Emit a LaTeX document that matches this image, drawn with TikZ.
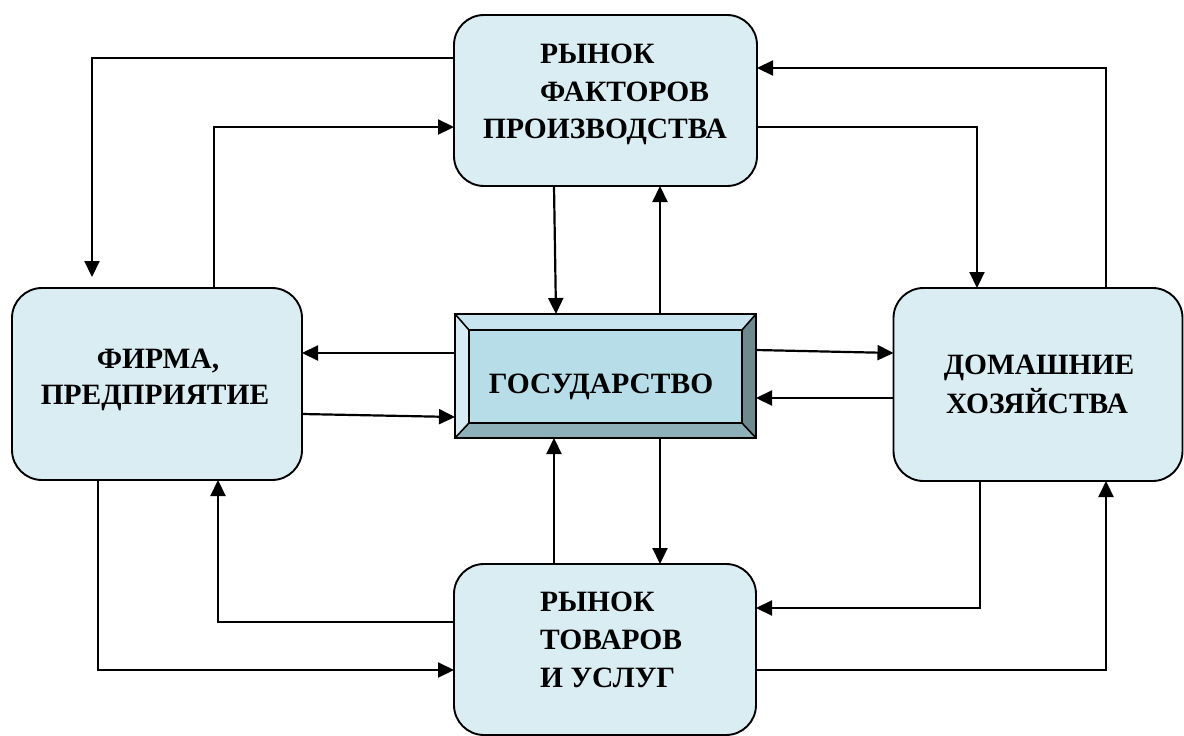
\documentclass[tikz,border=0pt]{standalone}
\usepackage{fontspec}
\setmainfont{Liberation Serif}
\usetikzlibrary{arrows.meta}
\definecolor{boxfill}{RGB}{218,237,243}
\definecolor{govin}{RGB}{183,221,232}
\definecolor{govtop}{RGB}{200,228,238}
\definecolor{govleft}{RGB}{214,235,242}
\definecolor{govright}{RGB}{110,138,143}
\definecolor{govbot}{RGB}{142,176,184}
\begin{document}
\begin{tikzpicture}[x=1pt,y=-1pt,
  mbox/.style={draw=black,line width=1.9pt,fill=boxfill,rounded corners=30pt,outer sep=0pt,inner sep=0pt},
  lbl/.style={font=\fontsize{29.5}{35}\selectfont\bfseries,inner sep=0pt,anchor=base},
  lblw/.style={lbl,anchor=base west},
  arr/.style={line width=2.2pt,-{Triangle[length=16pt,width=15pt]}},
  bev/.style={draw=black,line width=1.6pt,line join=miter}]
\useasboundingbox (0,0) rectangle (1184,736);

% boxes
\node[mbox,minimum width=303pt,minimum height=171pt] (top) at (605.5,100.5) {};
\node[mbox,minimum width=290pt,minimum height=192pt] (firm) at (157,384) {};
\node[mbox,minimum width=289pt,minimum height=193pt] (hh) at (1038,384.5) {};
\node[mbox,minimum width=302pt,minimum height=171pt] (bot) at (605,649.5) {};
\node[draw=black,line width=1.9pt,fill=govin,outer sep=0pt,minimum width=301pt,minimum height=124pt] (gov) at (605.5,376) {};

% bevel of government box
\fill[govtop] (gov.north west) -- (gov.north east) -- ([shift={(-14,16)}]gov.north east) -- ([shift={(14,16)}]gov.north west) -- cycle;
\fill[govleft] (gov.north west) -- ([shift={(14,16)}]gov.north west) -- ([shift={(14,-15)}]gov.south west) -- (gov.south west) -- cycle;
\fill[govright] (gov.north east) -- ([shift={(-14,16)}]gov.north east) -- ([shift={(-14,-15)}]gov.south east) -- (gov.south east) -- cycle;
\fill[govbot] (gov.south west) -- ([shift={(14,-15)}]gov.south west) -- ([shift={(-14,-15)}]gov.south east) -- (gov.south east) -- cycle;
\draw[bev] ([shift={(14,16)}]gov.north west) rectangle ([shift={(-14,-15)}]gov.south east);
\draw[bev] (gov.north west) -- ([shift={(14,16)}]gov.north west);
\draw[bev] (gov.north east) -- ([shift={(-14,16)}]gov.north east);
\draw[bev] (gov.south west) -- ([shift={(14,-15)}]gov.south west);
\draw[bev] (gov.south east) -- ([shift={(-14,-15)}]gov.south east);
\draw[line width=1.9pt] (gov.north west) rectangle (gov.south east);

% texts
\node[lblw] (t1) at (540,63) {РЫНОК};
\node[lblw] (t2) at (540,101) {ФАКТОРОВ};
\node[lbl] (t3) at (605,138) {ПРОИЗВОДСТВА};
\node[lbl] (f1) at (158,368) {ФИРМА,};
\node[lbl] (f2) at (155,404) {ПРЕДПРИЯТИЕ};
\node[lbl] (h1) at (1039,374) {ДОМАШНИЕ};
\node[lbl] (h2) at (1037,413) {ХОЗЯЙСТВА};
\node[lbl] (g1) at (601,393) {ГОСУДАРСТВО};
\node[lblw] (b1) at (540,611) {РЫНОК};
\node[lblw] (b2) at (540,649) {ТОВАРОВ};
\node[lblw] (b3) at (540,687) {И УСЛУГ};

% connectors
\draw[arr,shorten >=11pt] (top.west |- 0,58) -| (firm.north -| 92,0);
\draw[arr] (firm.north -| 214,0) |- (top.west |- 0,127);
\draw[arr] (top.east |- 0,127) -| (hh.north -| 977,0);
\draw[arr] (hh.north -| 1106,0) |- (top.east |- 0,68);
\draw[arr] (top.south -| 554,0) -- (gov.north -| 556,0);
\draw[arr] (gov.north -| 660,0) -- (top.south -| 660,0);
\draw[arr] (gov.west |- 0,353) -- (firm.east |- 0,353);
\draw[arr] (firm.east |- 0,414) -- (gov.west |- 0,417);
\draw[arr] (gov.east |- 0,350) -- (hh.west |- 0,353);
\draw[arr] (hh.west |- 0,398) -- (gov.east |- 0,398);
\draw[arr] (gov.south -| 660,0) -- (bot.north -| 660,0);
\draw[arr] (bot.north -| 554,0) -- (gov.south -| 554,0);
\draw[arr] (firm.south -| 98,0) |- (bot.west |- 0,670);
\draw[arr] (bot.west |- 0,622) -| (firm.south -| 218,0);
\draw[arr] (hh.south -| 980,0) |- (bot.east |- 0,608);
\draw[arr] (bot.east |- 0,670) -| (hh.south -| 1106,0);
\end{tikzpicture}
\end{document}
